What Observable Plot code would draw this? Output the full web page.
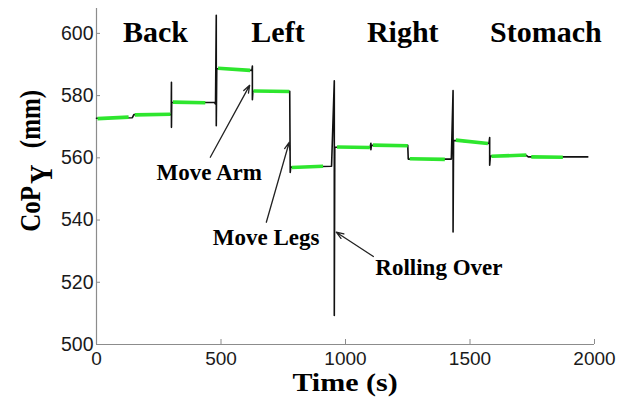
<!DOCTYPE html>
<html><head><meta charset="utf-8">
<script src="https://cdn.jsdelivr.net/npm/d3@7"></script>
<script src="https://cdn.jsdelivr.net/npm/@observablehq/plot@0.6"></script>
<style>
body{margin:0;background:#fff}
#chart{width:629px;height:406px}
</style>
</head><body><div id="chart"></div>
<script>
// raw CoP trace (black), time in s, CoP_Y in mm
const traceTime = [0,144,150,300,301,301,302,474,478,481,481,483,624,626,626,628,776,778,780,944,955,955,957,1099,1102,1102,1104,1250,1252,1425,1432,1432,1434,1576,1579,1579,1582,1726,1734,1973];
const traceCoP  = [572.7,572.9,573.9,573.9,584.3,569.8,577.8,577.8,577.3,605.8,570.3,588.7,588.1,589.5,578.7,581.4,581.4,555.3,557.0,557.3,584.8,509.3,563.4,563.4,564.7,562.6,564.0,564.0,559.6,559.6,581.6,536.2,565.6,564.6,566.5,557.6,560.6,560.8,560.3,560.3];

// stable (green) segments
const greenStart = [4,154,307,488,630,784,966,1110,1258,1443,1586,1746];
const greenEnd   = [129,297,437,617,774,910,1098,1250,1399,1572,1726,1873];
const greenFrom  = [572.6,573.8,577.9,588.8,581.5,556.9,563.5,564.1,559.7,565.7,560.5,560.3];
const greenTo    = [573.1,574.0,577.7,588.1,581.3,557.3,563.3,563.9,559.5,564.6,560.9,560.2];

const xTicks = [0,500,1000,1500,2000];
const yTicks = [500,520,540,560,580,600];

const postures    = ["Back","Left","Right","Stomach"];
const postureTime = [237,729,1230,1805];
const postureCoP  = [600.2,600.2,600.2,600.2];

const events       = ["Move Arm","Move Legs","Rolling Over"];
const eventTime    = [453,681,1375];
const eventCoP     = [555.1,534.5,524.6];
const arrowTailT   = [457,682,1112];
const arrowTailCoP = [560.2,539.3,528.3];
const arrowHeadT   = [615,774,963];
const arrowHeadCoP = [583.3,565.0,536.1];

const trace = traceTime.map((t,i)=>({t, c: traceCoP[i]}));
const green = greenStart.map((s,i)=>({x1:s, x2:greenEnd[i], y1:greenFrom[i], y2:greenTo[i]}));
const postureData = postures.map((p,i)=>({p, t:postureTime[i], c:postureCoP[i]}));
const eventData = events.map((e,i)=>({e, t:eventTime[i], c:eventCoP[i], x1:arrowTailT[i], y1:arrowTailCoP[i], x2:arrowHeadT[i], y2:arrowHeadCoP[i]}));

const plot = Plot.plot({
  width: 629, height: 406,
  marginLeft: 96, marginRight: 35, marginTop: 8, marginBottom: 62,
  x: {domain: [0,2000]},
  y: {domain: [500,608]},
  style: {background:"#fff", fontFamily:"'Liberation Sans', Arial, sans-serif"},
  marks: [
    Plot.ruleY([500], {stroke:"#8c8c8c", strokeWidth:1.2}),
    Plot.ruleX([0], {stroke:"#8c8c8c", strokeWidth:1.2}),
    Plot.axisX({ticks: xTicks, tickSize: -5, tickPadding: 12, fontSize: 19, stroke:"#8c8c8c", fill:"#1a1a1a", label: null, tickFormat: d=>String(d)}),
    Plot.axisY({ticks: yTicks, tickSize: -4, tickPadding: 7, fontSize: 19.5, stroke:"#8c8c8c", fill:"#1a1a1a", label: null, tickFormat: d=>String(d)}),
    Plot.line(trace, {x:"t", y:"c", stroke:"#111", strokeWidth:1.6}),
    Plot.link(green, {x1:"x1", x2:"x2", y1:"y1", y2:"y2", stroke:"#2ee62e", strokeWidth:3.6}),
    Plot.text(postureData, {x:"t", y:"c", text:"p", fontSize:30, fontWeight:"bold", fontFamily:"'Liberation Serif', 'Times New Roman', serif", fill:"#000"}),
    Plot.arrow(eventData, {x1:"x1", y1:"y1", x2:"x2", y2:"y2", stroke:"#222", strokeWidth:1.3, headLength:9, headAngle:40}),
    Plot.text(eventData, {x:"t", y:"c", text:"e", fontSize:23, fontWeight:"bold", fontFamily:"'Liberation Serif', 'Times New Roman', serif", fill:"#000"})
  ]
});

const svg = d3.select(plot);
svg.append("text")
  .attr("transform","translate(345,391) scale(1.2,1)")
  .attr("text-anchor","middle")
  .attr("font-family","'Liberation Serif', 'Times New Roman', serif")
  .attr("font-weight","bold").attr("font-size",25).attr("fill","#000")
  .text("Time (s)");
const yl = svg.append("text")
  .attr("transform","translate(39.5,231.7) scale(1.2,1) rotate(-90)")
  .attr("text-anchor","start")
  .attr("font-family","'Liberation Serif', 'Times New Roman', serif")
  .attr("font-weight","bold").attr("font-size",25).attr("fill","#000");
yl.append("tspan").text("CoP");
yl.append("tspan").attr("font-size",27).attr("dx",2).attr("dy",10).text("Y");
yl.append("tspan").attr("dy",-10).attr("dx",10).text(" (mm)");

document.getElementById("chart").appendChild(plot);
</script>
</body></html>
